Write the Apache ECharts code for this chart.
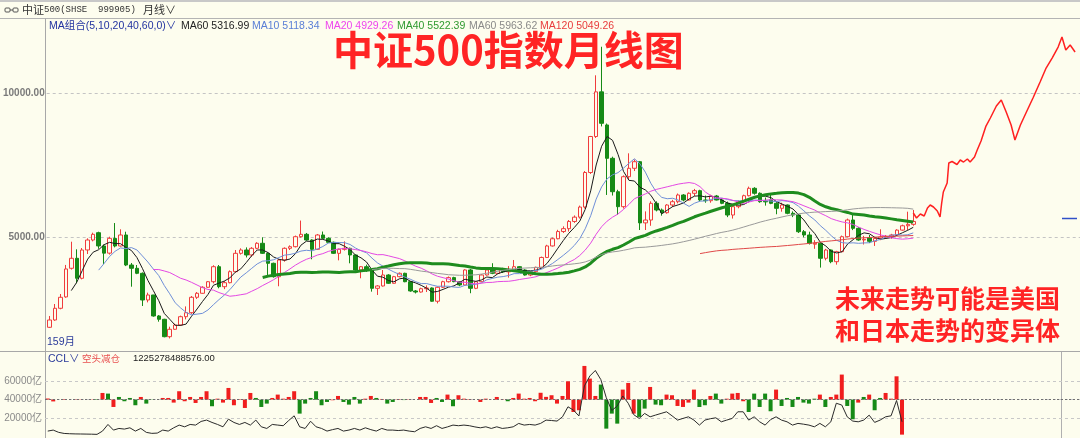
<!DOCTYPE html>
<html><head><meta charset="utf-8">
<script src="https://cdn.jsdelivr.net/npm/echarts@6/dist/echarts.min.js"></script>
<style>html,body{margin:0;padding:0;background:#fdfdee;}#c{width:1080px;height:438px;}</style>
</head><body><div id="c"></div>
<script>
// ---- monthly candles [open, close, low, high], 2007-01 .. 2020-03 (159 months)
const candles = [
// 2007
[1875,2129,1851,2268],[2129,2535,2100,2684],[2535,2917,2500,3031],[2930,3900,2900,4040],
[3924,4271,3880,4847],[4271,3577,3403,4583],[3577,4559,3540,4628],[4560,4906,4420,4965],
[4906,5104,4860,5160],[5160,4700,4600,5194],[4700,4450,4073,4750],[4450,4965,4400,5021],
// 2008
[4960,4698,4650,5495.39],[4698,5080,4680,5278],[5080,4038,4000,5194],[4038,3924,3285,4108],
[3924,3750,3720,4038],[3750,2823,2615,3780],[2823,2997,2740,3077],[2997,2268,2243,3000],
[2268,2153,2070,2300],[2153,1549,1528,2170],[1549,1806,1488.65,1896],[1806,1955,1790,2000],
// 2009
[1955,2243,1930,2280],[2243,2382,2150,2600],[2382,2917,2340,2962],[2917,3056,2860,3100],
[3056,3264,3040,3300],[3264,3458,3250,3480],[3458,3979,3400,4030],[3979,3285,3229,4038],
[3285,3424,3200,3480],[3424,3806,3400,3850],[3806,4444,3780,4559],[4444,4559,4400,4618],
// 2010
[4559,4386,4300,4650],[4386,4618,4326,4660],[4618,4792,4583,4830],[4792,4444,4420,5000],
[4444,4097,3670,4470],[4097,3632,3600,4120],[3632,4212,3300,4240],[4212,4618,4153,4650],
[4618,4674,4559,4720],[4674,5021,4650,5060],[5021,5104,4990,5581.35],[5104,4906,4880,5150],
// 2011
[4906,4583,4236,4931],[4583,5080,4560,5115],[5080,4965,4940,5200],[4965,4826,4800,5000],
[4826,4444,4420,4850],[4444,4583,4200,4610],[4583,4618,4540,4860],[4618,4386,4097,4640],
[4386,3865,3840,4400],[3865,3979,3577,4000],[3979,3865,3800,4050],[3865,3229,3113,3880],
// 2012
[3229,3310,2997,3340],[3310,3691,3290,3865],[3691,3403,3380,3720],[3403,3632,3390,3660],
[3632,3750,3610,3780],[3750,3458,3440,3770],[3458,3136,3110,3480],[3136,3100,3050,3170],
[3100,3215,3080,3250],[3215,3240,3100,3330],[3240,2780,2760,3260],[2780,3264,2704.37,3290],
// 2013
[3264,3458,3240,3490],[3458,3600,3430,3640],[3600,3460,3440,3630],[3460,3344,3300,3480],
[3344,3865,3320,3890],[3865,3229,3058,3900],[3229,3458,3200,3480],[3458,3691,3440,3720],
[3691,3865,3670,3900],[3865,3750,3720,4100],[3750,3900,3720,3930],[3900,3800,3760,3940],
// 2014
[3800,3850,3600,4000],[3850,3979,3830,4212],[3979,3865,3840,4000],[3865,3690,3670,3890],
[3690,3806,3650,3830],[3806,3958,3790,3980],[3958,4300,3940,4330],[4300,4700,4280,4740],
[4700,4950,4680,4990],[4950,5200,4930,5260],[5200,5300,5150,5380],[5300,5550,5200,5600],
// 2015
[5550,5700,5500,5760],[5700,6050,5650,6100],[6050,7250,6000,7300],[7250,8500,7200,8520],
[8500,10050,8450,10625],[10050,8958,8850,11616],[8900,7743,6470,8950],[7743,6583,6450,7800],
[6583,6063,5774,6650],[6063,7104,6000,7150],[7104,7396,7000,7916],[7396,7625,7300,7700],
// 2016
[7625,5500,5253,7650],[5500,5600,5253,5900],[5600,6180,5400,6250],[6180,5948,5900,6250],
[5948,5854,5750,6000],[5854,6121,5820,6150],[6121,6236,6050,6300],[6236,6469,6180,6520],
[6469,6295,6250,6500],[6295,6528,6280,6560],[6528,6618,6434,6680],[6618,6295,6250,6650],
// 2017
[6295,6271,6200,6450],[6271,6434,6201,6480],[6434,6295,6280,6470],[6295,6180,6150,6360],
[6180,5774,5700,6240],[5774,6063,5650,6100],[6063,6236,6007,6280],[6236,6444,6200,6480],
[6444,6701,6420,6760],[6701,6528,6480,6740],[6528,6236,6200,6560],[6250,6230,6100,6380],
// 2018
[6300,6180,6150,6500],[6180,6007,5800,6220],[6007,6121,5889,6200],[6121,5833,5800,6140],
[5833,5774,5700,5900],[5774,5194,5150,5800],[5194,5080,5000,5253],[5080,4792,4750,5194],
[4760,4792,4600,4900],[4792,4271,3948.56,4800],[4271,4559,4200,4600],[4559,4153,4100,4580],
// 2019
[4153,4500,4050,4530],[4500,5021,4480,5060],[5021,5601,5000,5650],[5601,5312,5250,5833],
[5312,4906,4880,5350],[4906,4930,4750,5050],[4990,4860,4800,5080],[4860,4960,4700,5000],
[4960,5010,4900,5278],[5010,5040,4980,5080],[5040,5080,4950,5120],[5080,5250,5050,5280],
// 2020
[5250,5400,5230,5440],[5400,5450,5250,5889],[5450,5550,5400,5948]
];
const TOTAL_SLOTS = 189;            // candle slots incl. empty future area
const maPeriods = [5, 10, 20, 40, 60, 120];
const maColors  = ['#1a1a1a', '#6f8fd8', '#e448e4', '#1e8c1e', '#9a9a9a', '#e04848'];
const maWidths  = [1, 1, 1, 3, 1, 1];

// marked extremes
const extremeIdx  = [12, 46, 22, 71, 141];
const extremeVal  = [5495.39, 5581.35, 1488.65, 2704.37, 3948.56];
const extremeHigh = [1, 1, 0, 0, 0];

// hand-drawn projection (x in candle-slot units, y in index points)
const projX = [158.0,158.6,159.3,160.0,160.6,161.1,161.7,162.4,162.9,163.2,163.5,164.2,164.5,165.1,166.0,166.6,167.2,167.9,168.4,169.2,169.7,170.4,171.3,172.1,173.2,174.1,175.0,175.9,176.6,177.6,178.7,179.9,181.2,182.3,183.4,184.5,185.2,185.9,186.7,187.6];
const projY = [5844,5670,5809,5740,6017,6121,6052,5913,5705,6191,6573,6885,7580,7632,7528,7684,7614,7719,7614,7788,8031,8343,8864,9142,9559,9767,9350,8899,8378,8899,9350,9836,10392,10878,11225,11607,11954,11503,11676,11433];

// CCL panel: bar change (亿, around 40000 base), colour flag 1=red 0=green, and line (亿)
const cclBase = 40000;
const cclDelta = [
1200,-2000,0,500,0,300,-300,0,300,500, 7300,6600,-8100,2900,-1800,1800,-6200,2900,-4400,300,
0,1800,1800,-3300,9200,-1800,2900,-3700,2900,9200, -7300,1000,-3300,12800,-6200,500,-9200,7300,1800,-8100,
-4400,1800,5500,1000,2900,9200,-15400,-4400,1800,9200, -6200,-2600,-700,4000,-2600,-5500,2900,-4400,1000,4000,
1800,700,-4400,-2600,500,-500,300,0,2900,2900, -3700,1800,-2600,5500,-7300,4800,1000,500,0,-2600,
1000,0,2900,300,-1800,1800,6600,1000,1800,-1800, 7500,3000,4800,-4400,4000,20100,-13600,-11700,37000,23100,
4000,16500,-31900,-15400,-26400,11000,18300,-15400,-19000,-9900, 13900,-5500,-6200,5500,4800,-7000,-8100,-3300,11000,-8100,
-6200,4000,6600,-4400,1000,6600,7300,-1800,-13600,6600, -8100,6600,-12800,11000,-7000,1800,-8100,2900,-3300,-4400,
1000,5500,-8100,2900,5500,27500,-7000,-21600,-3300,2900, 5500,-11700,1800,7300,1000,25600,-38500
];
const cclRed = [
1,1,1,1,1,1,1,1,1,0, 1,0,1,0,0,0,0,1,0,0, 1,1,1,1,1,1,1,1,1,1, 0,1,1,1,1,1,1,1,0,0,
0,1,1,1,1,1,0,0,0,0, 0,0,1,1,0,0,0,0,1,1, 0,1,0,0,1,0,1,1,1,1, 1,0,0,1,0,1,1,1,1,1,
1,1,1,1,0,1,1,1,1,1, 1,1,1,1,1,1,1,1,1,1, 1,0,0,0,0,1,1,1,0,0, 1,0,0,1,1,1,1,1,1,0,
0,1,0,0,1,1,1,1,0,0, 0,0,0,1,0,0,0,0,0,0, 0,1,0,1,1,1,0,0,1,0, 1,0,0,1,1,1,1
];
const cclLine = [
5400,6500,4000,2800,2500,2300,2200,2100,2000,1800, 5400,12700,6500,8300,7600,9000,5400,8300,4000,2900,
3200,6500,5400,9000,12000,10100,12700,12000,16000,17500, 14900,12700,10100,18500,14900,12700,14900,12000,17500,10100,
8300,12700,12000,11300,17000,22200,10100,8300,16200,10100, 8300,5400,7000,8300,5400,6500,8300,6500,9000,7000,
5400,8300,6500,6500,6000,6500,5400,4700,8300,10100, 8300,11300,8300,10000,12000,11300,12000,11300,10000,9000,
10100,8300,10100,8300,9000,10100,13800,12000,12700,12000, 13840,17470,17000,16400,21100,32100,28400,22000,55000,66000,
72000,62000,42000,28000,33000,44000,36000,23500,19300,24800, 21100,23000,24800,26600,22200,17470,19300,21100,17470,11980,
17470,19000,20000,15600,17500,19300,26600,26600,17470,21100, 15600,11980,18000,21100,17470,15600,11980,13840,13000,11980,
10110,13840,10110,15600,36000,34000,21000,16400,15600,17470, 22900,14940,17470,21100,22200,39000,15600
];

// ---- derived
const categories = [];
for (let i = 0; i < TOTAL_SLOTS; i++) {
  const y = 2007 + Math.floor(i / 12), m = i % 12 + 1;
  categories.push(y + '-' + (m < 10 ? '0' : '') + m);
}
const closes = candles.map(c => c[1]);
function ma(n) {
  return closes.map((_, i) => {
    if (i < n - 1) return '-';
    let s = 0; for (let k = i - n + 1; k <= i; k++) s += closes[k];
    return +(s / n).toFixed(2);
  });
}
const BG = '#fdfdee';
const RED = '#f03c3c', GREEN = '#168a16';

const maSeries = maPeriods.map((p, k) => ({
  type: 'line', name: 'MA' + p, data: ma(p), xAxisIndex: 0, yAxisIndex: 0,
  showSymbol: false, symbol: 'none', z: 4,
  lineStyle: { color: maColors[k], width: maWidths[k] }, silent: true
}));

const chart = echarts.init(document.getElementById('c'), null, { renderer: 'canvas' });
const L = 45, SLOT = 5.477, W = SLOT * TOTAL_SLOTS;
const txt = (x, y, t, color, size, extra) => ({ type: 'text', left: x, top: y, silent: true,
  style: Object.assign({ text: t, fill: color, font: (extra && extra.weight ? extra.weight + ' ' : '') + size + 'px ' + ((extra && extra.family) || '"Liberation Sans", "Noto Sans CJK SC", sans-serif') }, extra && extra.style) });

chart.setOption({
  animation: false,
  backgroundColor: BG,
  grid: [
    { left: L, top: 21.3, width: W, height: 360 },
    { left: L, top: 363.2, width: W, height: 72.8 }
  ],
  xAxis: [
    { type: 'category', gridIndex: 0, data: categories, boundaryGap: true, show: false },
    { type: 'value', gridIndex: 0, min: -0.5, max: TOTAL_SLOTS - 0.5, show: false },
    { type: 'category', gridIndex: 1, data: categories, boundaryGap: true, show: false }
  ],
  yAxis: [
    { type: 'value', gridIndex: 0, min: 0, max: 12500, interval: 5000,
      axisLine: { show: false }, axisTick: { show: false },
      axisLabel: { margin: 2, color: '#7a7a7a', fontSize: 10, fontWeight: 'bold', fontFamily: 'Liberation Sans',
        formatter: v => ((v === 5000 || v === 10000) ? v.toFixed(2) : '') },
      splitLine: { show: true, showMinLine: false, showMaxLine: false, lineStyle: { color: '#c4c4c4', type: [3, 3], width: 1 } } },
    { type: 'value', gridIndex: 1, min: -40000, max: 40000, interval: 20000,
      axisLine: { show: false }, axisTick: { show: false },
      axisLabel: { margin: 3, color: '#8a8a8a', fontSize: 10, fontFamily: 'Liberation Sans, Noto Sans CJK SC',
        formatter: v => (Math.abs(v) === 40000 ? '' : (v + cclBase) + '亿') },
      splitLine: { show: true, showMinLine: false, showMaxLine: false, lineStyle: { color: '#c8c8c8', type: [3, 3], width: 1 } } }
  ],
  series: [
    { type: 'candlestick', xAxisIndex: 0, yAxisIndex: 0, data: candles, barWidth: 4, z: 3, silent: true,
      itemStyle: { color: BG, color0: GREEN, borderColor: RED, borderColor0: GREEN, borderWidth: 1 } },
    ...maSeries,
    { type: 'line', xAxisIndex: 1, yAxisIndex: 0, data: projX.map((x, i) => [x, projY[i]]),
      showSymbol: false, symbol: 'none', clip: false, z: 5, silent: true,
      lineStyle: { color: '#ff2020', width: 1.5 } },
    { type: 'scatter', xAxisIndex: 0, yAxisIndex: 0, symbolSize: 1, z: 6, silent: true,
      itemStyle: { opacity: 0 },
      data: extremeIdx.map((ix, k) => ({ value: [ix, extremeVal[k]],
        label: { show: true, position: extremeHigh[k] ? 'top' : 'bottom', distance: 2,
          formatter: extremeVal[k].toFixed(2), color: extremeHigh[k] ? '#e84040' : '#3a8f3a',
          fontSize: 11, fontFamily: 'Liberation Sans' } })) },
    { type: 'bar', xAxisIndex: 2, yAxisIndex: 1, barWidth: 4, silent: true, z: 3,
      data: cclDelta.map((d, i) => ({ value: d, itemStyle: { color: cclRed[i] ? '#f01e1e' : GREEN } })),
      markLine: { silent: true, symbol: 'none', label: { show: false },
        lineStyle: { color: '#707070', type: [2, 2], width: 1 }, data: [{ yAxis: 0 }] } },
    { type: 'line', xAxisIndex: 2, yAxisIndex: 1, data: cclLine.map(v => v - cclBase),
      showSymbol: false, symbol: 'none', z: 4, silent: true, lineStyle: { color: '#2a2a2a', width: 1 } }
  ],
  graphic: [
    { type: 'rect', shape: { x: 0, y: 0, width: 1080, height: 2 }, style: { fill: '#c8c8c8' }, silent: true },
    { type: 'line', shape: { x1: 0, y1: 18.5, x2: 1080, y2: 18.5 }, style: { stroke: '#b4b4b4', lineWidth: 1 }, silent: true },
    { type: 'line', shape: { x1: 45.5, y1: 18.5, x2: 45.5, y2: 438 }, style: { stroke: '#a8a8a8', lineWidth: 1 }, silent: true },
    { type: 'line', shape: { x1: 0, y1: 351.5, x2: 1080, y2: 351.5 }, style: { stroke: '#a8a8a8', lineWidth: 1 }, silent: true },
    { type: 'line', shape: { x1: 1061.5, y1: 352, x2: 1061.5, y2: 438 }, style: { stroke: '#b0b0b0', lineWidth: 1 }, silent: true },
    { type: 'line', shape: { x1: 1062, y1: 218.5, x2: 1077, y2: 218.5 }, style: { stroke: '#3050c8', lineWidth: 1.5 }, silent: true },
    // header icon
    { type: 'rect', shape: { x: 5, y: 8, width: 5, height: 4, r: 1 }, style: { fill: 'none', stroke: '#555', lineWidth: 1 }, silent: true },
    { type: 'rect', shape: { x: 13, y: 8, width: 5, height: 4, r: 1 }, style: { fill: 'none', stroke: '#555', lineWidth: 1 }, silent: true },
    { type: 'line', shape: { x1: 10, y1: 10, x2: 13, y2: 10 }, style: { stroke: '#555', lineWidth: 1 }, silent: true },
    txt(22, 4, '中证', '#333', 11, { family: '"Noto Sans CJK SC", sans-serif' }),
    txt(44, 5, '500(SHSE  999905)', '#333', 9, { family: '"Liberation Mono", monospace' }),
    txt(143, 4, '月线∨', '#333', 11, { family: '"Noto Sans CJK SC", sans-serif' }),
    // MA legend
    txt(49, 21, 'MA组合(5,10,20,40,60,0)∨', '#2233a0', 10.5),
    txt(181, 21, 'MA60 5316.99', '#222', 10.5),
    txt(252, 21, 'MA10 5118.34', '#5a7fd6', 10.5),
    txt(325, 21, 'MA20 4929.26', '#ee44ee', 10.5),
    txt(397, 21, 'MA40 5522.39', '#2f9a2f', 10.5),
    txt(469, 21, 'MA60 5963.62', '#8a8a8a', 10.5),
    txt(540, 21, 'MA120 5049.26', '#e83c3c', 10.5),
    // big title
    { type: 'text', left: 333, top: 30, silent: true, z: 10,
      style: { text: '中证500指数月线图', fill: '#ff2424', font: 'bold 40px "Noto Sans CJK SC", sans-serif' } },
    { type: 'text', left: 835, top: 282, silent: true, z: 10,
      style: { text: '未来走势可能是美国\n和日本走势的变异体', fill: '#ff2424', lineHeight: 32,
        font: 'bold 25px "Noto Sans CJK SC", sans-serif' } },
    txt(47, 337, '159月', '#2a3a9a', 10.5, { family: '"Liberation Sans", "Noto Sans CJK SC", sans-serif' }),
    // CCL header
    txt(48, 354, 'CCL∨', '#2a3a9a', 10.5),
    txt(82, 354, '空头减仓', '#e85050', 9.5, { family: '"Noto Sans CJK SC", sans-serif' }),
    txt(133, 354, '1225278488576.00', '#222', 9.5)
  ]
});
</script></body></html>
